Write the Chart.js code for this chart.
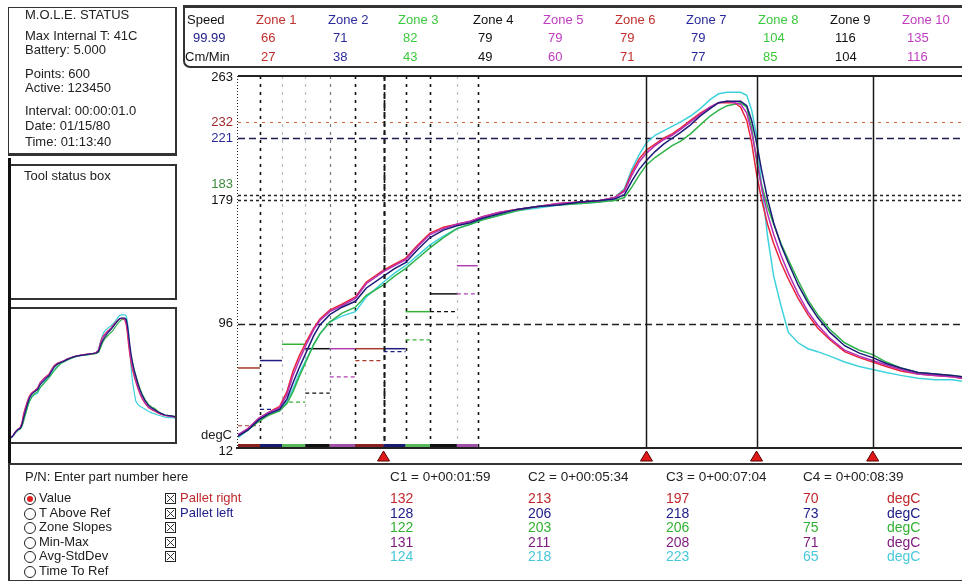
<!DOCTYPE html>
<html lang="en">
<head>
<meta charset="utf-8">
<title>M.O.L.E. reflow profile</title>
<script src="https://cdn.jsdelivr.net/npm/chart.js@4.4.1/dist/chart.umd.min.js"></script>
<style>
    html, body { margin: 0; padding: 0; background: #fff; }
    body {
        position: relative; width: 962px; height: 582px; overflow: hidden;
        font-family: Arial, "Liberation Sans", sans-serif; font-size: 13px; color: #1a1a1a;
    }
    #profile { position: absolute; left: 0; top: 0; }
    #mini { position: absolute; left: 11px; top: 309px; }
    .panel { position: absolute; box-sizing: border-box; border: 1px solid #333; }
    .txt { position: absolute; white-space: nowrap; line-height: 16px; }
    .num { font-size: 14px; }
    #statusBox { left: 8px; top: 7px; width: 169px; height: 149px; border-width: 1px 2px 3px 1px; }
    #toolBox { left: 9px; top: 164px; width: 168px; height: 136px; border-width: 2px; }
    #miniBox { left: 9px; top: 307px; width: 168px; height: 137px; border-width: 2px; }
    #leftRule { position: absolute; left: 8px; top: 158px; width: 3px; height: 306px; background: #111; }
    #zoneBox { left: 183px; top: 5px; width: 800px; height: 63px; border-width: 3px 0 2px 2px; border-bottom-left-radius: 7px; }
    #bottomBox { left: 8px; top: 463px; width: 960px; height: 118px; border-width: 2px 0 1px 2px; }
    .radio { position: absolute; width: 10px; height: 10px; border: 1px solid #222; border-radius: 50%; }
    .radio.on::after { content: ''; position: absolute; left: 2px; top: 2px; width: 6px; height: 6px; border-radius: 50%; background: #e02020; }
    .check {
        position: absolute; width: 7px; height: 7px; padding: 1px; border: 1px solid #222;
        background-origin: content-box; background-clip: content-box;
        background-image: linear-gradient(45deg, transparent 43%, #333 43%, #333 57%, transparent 57%),
                          linear-gradient(-45deg, transparent 43%, #333 43%, #333 57%, transparent 57%);
    }
</style>
</head>
<body>
<canvas id="profile" width="962" height="582"></canvas>
<div class="panel" id="statusBox"></div>
<div class="panel" id="toolBox"></div>
<div class="panel" id="miniBox"></div>
<div id="leftRule"></div>
<div class="panel" id="zoneBox"></div>
<div class="panel" id="bottomBox"></div>
<canvas id="mini" width="164" height="133"></canvas>

<script>
'use strict';

// time axis (seconds) and probe temperatures (degC)
var times = [0, 8, 17, 25, 34, 40, 45, 50, 56, 62,
    67, 75, 85, 96, 105, 119, 128, 137, 147, 157,
    168, 179, 190, 200, 214, 228, 245, 262, 280, 296,
    308, 316, 322, 328, 334, 341, 348, 355, 362, 370,
    378, 386, 393, 400, 406, 411, 416, 420, 424, 428,
    433, 438, 444, 450, 458, 466, 474, 484, 496, 508,
    519, 530, 542, 556, 570, 584, 592];

var redTemps = [20, 25, 32, 36, 40, 50, 64, 74, 84, 93,
    99, 105, 109, 114, 124, 132, 136, 140, 149, 157,
    161, 163, 165, 168, 171, 173, 175, 177, 178, 179,
    181, 186, 198, 207, 213, 217, 221, 224, 228, 233,
    238, 242, 245, 245, 245, 242, 233, 218, 197, 180,
    163, 150, 137, 126, 113, 102, 93, 85, 77, 73,
    70, 67, 64, 62, 61, 60, 59];

var navyTemps = [20, 24, 31, 35, 38, 45, 56, 66, 77, 88,
    95, 102, 107, 111, 120, 128, 133, 137, 146, 154,
    159, 162, 164, 167, 170, 173, 175, 176, 178, 179,
    180, 183, 192, 200, 206, 212, 217, 221, 225, 230,
    236, 241, 245, 246, 246, 246, 243, 233, 218, 200,
    180, 164, 149, 137, 122, 110, 100, 90, 81, 76,
    73, 69, 66, 63, 62, 61, 60];

var greenTemps = [20, 24, 30, 34, 37, 42, 50, 60, 71, 82,
    89, 97, 103, 107, 115, 122, 128, 133, 140, 147,
    154, 160, 163, 166, 169, 172, 175, 176, 177, 178,
    179, 181, 188, 196, 203, 208, 212, 216, 219, 224,
    230, 236, 240, 243, 244, 245, 242, 228, 206, 190,
    175, 163, 150, 139, 125, 112, 102, 92, 83, 78,
    75, 70, 66, 63, 62, 61, 60];

var purpleTemps = [21, 25, 32, 36, 39, 48, 61, 71, 82, 92,
    98, 104, 108, 113, 123, 131, 135, 139, 148, 156,
    160, 163, 165, 168, 171, 173, 175, 177, 178, 179,
    181, 185, 196, 205, 211, 216, 220, 223, 227, 232,
    237, 242, 245, 246, 245, 244, 238, 225, 208, 188,
    170, 156, 142, 130, 116, 104, 95, 86, 78, 74,
    71, 68, 65, 62, 61, 60, 59];

var cyanTemps = [19, 24, 31, 35, 37, 43, 52, 62, 72, 82,
    89, 97, 101, 104, 114, 124, 130, 135, 142, 149,
    155, 160, 163, 166, 169, 172, 174, 176, 177, 178,
    181, 187, 200, 210, 218, 223, 226, 229, 232, 236,
    241, 247, 251, 252, 252, 252, 250, 240, 223, 190,
    155, 128, 108, 90, 83, 79, 77, 74, 70, 67,
    65, 63, 61, 59, 58, 58, 57];

// probes in legend order: red, navy, green, purple, cyan
var probeTemps = [redTemps, navyTemps, greenTemps, purpleTemps, cyanTemps];
var probeNames = ['Pallet right', 'Pallet left', '', '', ''];

// oven zones
var zoneNames = ['Zone 1', 'Zone 2', 'Zone 3', 'Zone 4', 'Zone 5', 'Zone 6', 'Zone 7', 'Zone 8', 'Zone 9', 'Zone 10'];
var zoneTopSet = [66, 71, 82, 79, 79, 79, 79, 104, 116, 135];
var zoneLowSet = [27, 38, 43, 49, 60, 71, 77, 85, 104, 116];
var zoneEdges = [0, 18, 36, 55, 75, 96, 119, 137, 157, 179, 196];
var conveyorSpeed = '99.99';

// reference temperatures and y axis labels
var refTemps = [232, 221, 183, 179, 96];
var axisLabelTemps = [263, 232, 221, 183, 179, 96, 12];

// cursors
var cursorTimes = [119, 334, 424, 519];
var cursorLabels = ['C1 = 0+00:01:59', 'C2 = 0+00:05:34', 'C3 = 0+00:07:04', 'C4 = 0+00:08:39'];
var c1Values = [132, 128, 122, 131, 124];
var c2Values = [213, 206, 203, 211, 218];
var c3Values = [197, 218, 206, 208, 223];
var c4Values = [70, 73, 75, 71, 65];

var statusLines = ['M.O.L.E. STATUS', 'Max Internal T: 41C', 'Battery: 5.000', 'Points: 600',
    'Active: 123450', 'Interval: 00:00:01.0', 'Date: 01/15/80', 'Time: 01:13:40'];
var viewOptions = ['Value', 'T Above Ref', 'Zone Slopes', 'Min-Max', 'Avg-StdDev', 'Time To Ref'];

// ---- styles / positions ----
var probeColors = ['#e8243c', '#1c1c78', '#2fb34a', '#b62fb6', '#3fd2dc'];
var probeOrder = [3, 1, 4, 2, 5];
var probeTextColors = ['#c0282c', '#20208a', '#34b034', '#7c1a7c', '#48c8d8'];
var zoneLineColors = ['#a83a2a', '#1e1e80', '#38b038', '#111', '#b040b0', '#a83a2a', '#1e1e80', '#38b038', '#111', '#b040b0'];
var zoneBarColors = ['#8b2020', '#1a1a70', '#5ab85a', '#111', '#a050a8', '#8b2020', '#1a1a70', '#5ab85a', '#111', '#a050a8'];
var zoneTextColors = ['#c0302c', '#2a2a9c', '#3cc83c', '#111', '#c03cc0', '#c0302c', '#2a2a9c', '#3cc83c', '#111', '#c03cc0'];
var edgeShade = ['#111', '#bbb', '#bbb', '#777', '#111', '#111', '#111', '#111', '#bbb', '#111'];
var refStyles = [
    { color: '#c8643c', dash: [3, 5], width: 1.2 },
    { color: '#1c1c50', dash: [7, 4], width: 1.5 },
    { color: '#222', dash: [3, 3], width: 1.5 },
    { color: '#222', dash: [3, 3], width: 1.5 },
    { color: '#222', dash: [7, 4], width: 1.5 }
];
var axisLabelColors = ['#111', '#a02828', '#2a2a9c', '#3c8c3c', '#111', '#111', '#111'];
var axisLabelShift = [1, 0, 0, -10, 0, 0, 3];
var headerX = [256, 328, 398, 473, 543, 615, 686, 758, 830, 902];
var headerRowY = [20, 38, 57];
var statusY = [15, 36, 50, 74, 88, 111, 126, 142];
var bottomRowY = [498, 512.5, 527, 541.5, 556, 570.5];
var cursorColX = [390, 528, 666, 803];

function addText(text, x, yc, color, cls) {
    var el = document.createElement('div');
    el.className = 'txt' + (cls ? ' ' + cls : '');
    el.textContent = text;
    el.style.left = x + 'px';
    el.style.top = (yc - 8) + 'px';
    if (color) el.style.color = color;
    document.body.appendChild(el);
    return el;
}

function addMark(cls, x, yc) {
    var el = document.createElement('div');
    el.className = cls;
    el.style.left = x + 'px';
    el.style.top = (yc - 5) + 'px';
    document.body.appendChild(el);
}

function buildPanels() {
    statusLines.forEach(function(line, i) {
        addText(line, 25, statusY[i], '#222');
    });
    addText('Tool status box', 24, 176, '#222');

    addText('Speed', 187, headerRowY[0], '#111');
    addText(conveyorSpeed, 193, headerRowY[1], '#20208a');
    addText('Cm/Min', 185, headerRowY[2], '#111');
    zoneNames.forEach(function(name, i) {
        addText(name, headerX[i], headerRowY[0], zoneTextColors[i]);
        addText(String(zoneTopSet[i]), headerX[i] + 5, headerRowY[1], zoneTextColors[i]);
        addText(String(zoneLowSet[i]), headerX[i] + 5, headerRowY[2], zoneTextColors[i]);
    });

    addText('P/N: Enter part number here', 25, 477, '#222');
    viewOptions.forEach(function(opt, i) {
        addMark(i === 0 ? 'radio on' : 'radio', 24, bottomRowY[i]);
        addText(opt, 39, bottomRowY[i], '#222');
    });
    probeNames.forEach(function(name, i) {
        addMark('check', 165, bottomRowY[i]);
        if (name) addText(name, 180, bottomRowY[i], probeTextColors[i]);
    });

    var cursorValues = [c1Values, c2Values, c3Values, c4Values];
    cursorLabels.forEach(function(label, k) {
        addText(label, cursorColX[k], 477, '#222').style.fontSize = '13.5px';
        cursorValues[k].forEach(function(v, i) {
            addText(String(v), cursorColX[k], bottomRowY[i], probeTextColors[i], 'num');
        });
    });
    probeTextColors.forEach(function(c, i) {
        addText('degC', 887, bottomRowY[i], c, 'num');
    });
}

function strokeLine(ctx, x0, y0, x1, y1) {
    ctx.beginPath();
    ctx.moveTo(x0, y0);
    ctx.lineTo(x1, y1);
    ctx.stroke();
}

var profileDecor = {
    id: 'profileDecor',
    beforeDatasetsDraw: function(chart) {
        var ctx = chart.ctx, area = chart.chartArea;
        var xs = chart.scales.x, ys = chart.scales.y;
        ctx.save();
        for (var i = 1; i < zoneEdges.length; i++) {
            var x = Math.round(xs.getPixelForValue(zoneEdges[i])) + 0.5;
            ctx.strokeStyle = edgeShade[i - 1];
            ctx.lineWidth = edgeShade[i - 1] === '#111' ? 1.6 : 1.2;
            ctx.setLineDash([3, 5]);
            strokeLine(ctx, x, area.top, x, area.bottom);
        }
        refTemps.forEach(function(v, k) {
            var y = Math.round(ys.getPixelForValue(v)) + 0.5;
            ctx.strokeStyle = refStyles[k].color;
            ctx.lineWidth = refStyles[k].width;
            ctx.setLineDash(refStyles[k].dash);
            strokeLine(ctx, area.left, y, area.right, y);
        });
        ctx.setLineDash([1, 2]);
        ctx.strokeStyle = '#222';
        ctx.lineWidth = 1;
        strokeLine(ctx, area.left - 0.5, area.top, area.left - 0.5, area.bottom);
        ctx.restore();
    },
    afterDatasetsDraw: function(chart) {
        var ctx = chart.ctx, area = chart.chartArea;
        var xs = chart.scales.x, ys = chart.scales.y;
        ctx.save();
        cursorTimes.forEach(function(t, k) {
            var x = Math.round(xs.getPixelForValue(t)) + 0.5;
            ctx.strokeStyle = '#1a1a1a';
            if (k === 0) {
                ctx.setLineDash([5, 4]);
                ctx.lineWidth = 2;
            } else {
                ctx.setLineDash([]);
                ctx.lineWidth = 1.5;
            }
            strokeLine(ctx, x, area.top, x, area.bottom);
        });

        ctx.setLineDash([]);
        ctx.lineWidth = 2;
        ctx.strokeStyle = '#222';
        strokeLine(ctx, area.left, area.top, area.right, area.top);
        strokeLine(ctx, area.left - 2, area.bottom, area.right, area.bottom);

        for (var i = 0; i < zoneTopSet.length; i++) {
            var x0 = xs.getPixelForValue(zoneEdges[i]);
            var x1 = xs.getPixelForValue(zoneEdges[i + 1]);
            ctx.fillStyle = zoneBarColors[i];
            ctx.fillRect(x0, area.bottom - 4, x1 - x0, 3);
        }

        cursorTimes.forEach(function(t) {
            var x = xs.getPixelForValue(t);
            ctx.beginPath();
            ctx.moveTo(x, area.bottom + 3);
            ctx.lineTo(x - 6, area.bottom + 13);
            ctx.lineTo(x + 6, area.bottom + 13);
            ctx.closePath();
            ctx.fillStyle = '#e01818';
            ctx.fill();
            ctx.strokeStyle = '#5a0000';
            ctx.lineWidth = 1;
            ctx.stroke();
        });

        ctx.font = '13px Arial, "Liberation Sans", sans-serif';
        ctx.textAlign = 'right';
        ctx.textBaseline = 'middle';
        axisLabelTemps.forEach(function(v, k) {
            ctx.fillStyle = axisLabelColors[k];
            ctx.fillText(String(v), area.left - 5, ys.getPixelForValue(v) + axisLabelShift[k]);
        });
        ctx.fillStyle = '#222';
        ctx.fillText('degC', area.left - 6, ys.getPixelForValue(12) - 13);
        ctx.restore();
    }
};

function probeDatasets(width) {
    return probeTemps.map(function(temps, i) {
        return {
            label: probeNames[i] || 'Probe ' + (i + 1),
            data: times.map(function(t, k) { return { x: t, y: temps[k] }; }),
            borderColor: probeColors[i],
            borderWidth: width,
            pointRadius: 0,
            tension: 0,
            order: probeOrder[i]
        };
    });
}

function buildProfileChart() {
    var datasets = probeDatasets(1.5);
    zoneTopSet.forEach(function(v, i) {
        datasets.push({
            label: zoneNames[i],
            data: [{ x: zoneEdges[i], y: v }, { x: zoneEdges[i + 1], y: v }],
            borderColor: zoneLineColors[i],
            borderWidth: 1.5,
            pointRadius: 0,
            order: 10
        });
        datasets.push({
            label: zoneNames[i] + ' low',
            data: [{ x: zoneEdges[i], y: zoneLowSet[i] }, { x: zoneEdges[i + 1], y: zoneLowSet[i] }],
            borderColor: zoneLineColors[i],
            borderWidth: 1.2,
            borderDash: [4, 3],
            pointRadius: 0,
            order: 10
        });
    });

    new Chart(document.getElementById('profile'), {
        type: 'line',
        data: { datasets: datasets },
        options: {
            responsive: false,
            animation: false,
            devicePixelRatio: 1,
            events: [],
            layout: { padding: { left: 196, top: 76, right: 0, bottom: 134 } },
            plugins: { legend: { display: false }, tooltip: { enabled: false } },
            scales: {
                x: { type: 'linear', min: 0, max: 592, display: false },
                y: {
                    type: 'linear', min: 12, max: 263,
                    grid: { display: false },
                    border: { display: false },
                    ticks: { display: false },
                    afterFit: function(scale) { scale.width = 42; }
                }
            }
        },
        plugins: [profileDecor]
    });
}

function buildMiniChart() {
    new Chart(document.getElementById('mini'), {
        type: 'line',
        data: { datasets: probeDatasets(1.2) },
        options: {
            responsive: false,
            animation: false,
            devicePixelRatio: 1,
            events: [],
            layout: { padding: 0 },
            plugins: { legend: { display: false }, tooltip: { enabled: false } },
            scales: {
                x: { type: 'linear', min: 0, max: 592, display: false },
                y: { type: 'linear', min: 12, max: 263, display: false }
            }
        }
    });
}

document.addEventListener('DOMContentLoaded', function() {
    buildPanels();
    buildProfileChart();
    buildMiniChart();
});
</script>
</body>
</html>
